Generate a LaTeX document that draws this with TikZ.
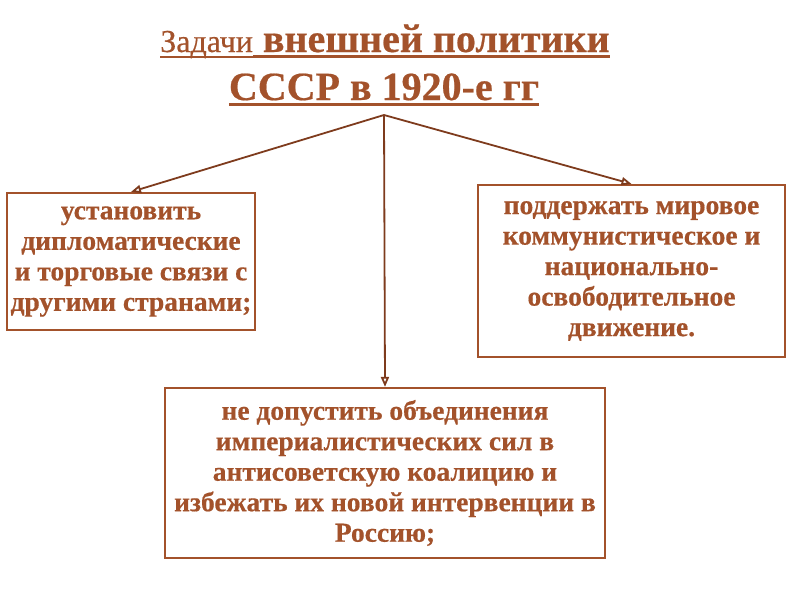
\documentclass[tikz,border=0pt]{standalone}
\usepackage{fontspec}
\setmainfont{Liberation Serif}
\newfontfamily\boldserif[FakeBold=0.5]{Liberation Serif}
\usetikzlibrary{arrows.meta}
\definecolor{sienna}{HTML}{A3522B}
\definecolor{branchbrown}{HTML}{7E3B1D}
% underline with a rule of given thickness
\newcommand\ul[2][3pt]{\setbox0\hbox{#2}\rlap{\rule[-6pt]{\wd0}{#1}}\box0}

\begin{document}
\begin{tikzpicture}[x=1pt,y=-1pt,
  taskbox/.style={draw=sienna,line width=2.2pt,text=sienna,align=center,inner sep=0pt,
    font=\boldserif\bfseries\fontsize{27.5}{30.5}\selectfont},
  heading/.style={text=sienna,inner sep=0pt,anchor=base,
    font=\boldserif\bfseries\fontsize{40}{44}\selectfont},
  branch/.style={draw=branchbrown,line width=1.8pt,-{Triangle[open,length=10pt,width=8pt]}}]
\useasboundingbox (0,0) rectangle (800,600);
\node[heading] (title) at (385,52)
  {\ul[2pt]{\mdseries\fontsize{32}{34}\selectfont Задачи}\ul{ внешней политики}};
\node[heading] (subtitle) at (384,100) {\ul{СССР в 1920-е гг}};
\coordinate (fork) at (384,115);
\node[taskbox,minimum width=248pt,minimum height=137pt] (trade) at (131,261.5)
  {установить\\дипломатические\\и торговые связи с\\другими странами;};
\node[taskbox,minimum width=307pt,minimum height=172pt] (movement) at (631.5,271)
  {поддержать мировое\\коммунистическое и\\национально-\\освободительное\\движение.};
\node[taskbox,minimum width=440pt,minimum height=170pt] (coalition) at (385,473)
  {не допустить объединения\\империалистических сил в\\антисоветскую коалицию и\\избежать их новой интервенции в\\Россию;};
\draw[branch] (fork) -- (trade.north);
\draw[branch] (fork) -- (movement.north);
\draw[branch] (fork) -- (coalition.north);
\end{tikzpicture}
\end{document}
